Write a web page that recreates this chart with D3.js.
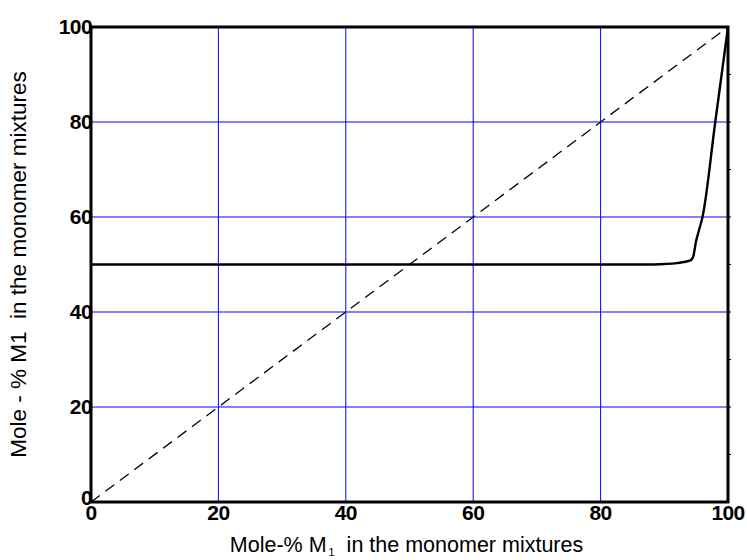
<!DOCTYPE html>
<html lang="en">
<head>
    <meta charset="UTF-8">
    <title>Copolymer composition</title>
    <script src="https://d3js.org/d3.v7.min.js"></script>
    <style>
        body { margin: 0; background: #fff; }
        svg { font-family: Arial, "Liberation Sans", sans-serif; }
        .tick-label { font-size: 21px; font-weight: bold; letter-spacing: -0.6px; }
        .axis-title { font-size: 21.5px; }
    </style>
</head>
<body>
    <div id="chart"></div>

    <script>
        // composition curve
        var feedX = [0, 88, 90, 92, 94, 94.5, 95, 95.4, 96, 98, 100];
        var copolyY = [50, 50, 50.1, 50.3, 50.8, 51.5, 55, 57, 60, 80, 100];
        // ideal (azeotropic) diagonal
        var diagX = [0, 100];
        var diagY = [0, 100];
        var tickValues = [0, 20, 40, 60, 80, 100];
        var gridValues = [20, 40, 60, 80];
        var minorValues = [10, 20, 30, 40, 50, 60, 70, 80, 90];

        var width = 747, height = 560;
        var margin = { left: 91, right: 19, top: 27, bottom: 58 };

        var svg = d3.select("#chart")
                    .append("svg")
                    .attr("width", width)
                    .attr("height", height);

        var x = d3.scaleLinear().domain([0, 100]).range([margin.left, width - margin.right]);
        var y = d3.scaleLinear().domain([0, 100]).range([height - margin.bottom, margin.top]);

        // blue grid
        svg.append("g").selectAll("line.gx")
           .data(gridValues).enter().append("line")
           .attr("x1", function(d) { return x(d); })
           .attr("x2", function(d) { return x(d); })
           .attr("y1", y(0)).attr("y2", y(100))
           .attr("stroke", "#0000ff").attr("stroke-width", 1);

        svg.append("g").selectAll("line.gy")
           .data(gridValues).enter().append("line")
           .attr("y1", function(d) { return y(d); })
           .attr("y2", function(d) { return y(d); })
           .attr("x1", x(0)).attr("x2", x(100))
           .attr("stroke", "#0000ff").attr("stroke-width", 1);

        // small ticks on the right border
        svg.append("g").selectAll("line.rt")
           .data(minorValues).enter().append("line")
           .attr("y1", function(d) { return y(d); })
           .attr("y2", function(d) { return y(d); })
           .attr("x1", x(100)).attr("x2", x(100) + 3)
           .attr("stroke", "#000").attr("stroke-width", 1);

        var line = d3.line()
                     .x(function(d) { return x(d[0]); })
                     .y(function(d) { return y(d[1]); });

        // dashed diagonal
        svg.append("path")
           .datum(d3.zip(diagX, diagY))
           .attr("d", line)
           .attr("fill", "none")
           .attr("stroke", "#000")
           .attr("stroke-width", 1.3)
           .attr("stroke-dasharray", "11,7");

        // composition curve
        svg.append("path")
           .datum(d3.zip(feedX, copolyY))
           .attr("d", line.curve(d3.curveMonotoneX))
           .attr("fill", "none")
           .attr("stroke", "#000")
           .attr("stroke-width", 2.4);

        // frame
        svg.append("rect")
           .attr("x", x(0)).attr("y", y(100))
           .attr("width", x(100) - x(0))
           .attr("height", y(0) - y(100))
           .attr("fill", "none")
           .attr("stroke", "#000")
           .attr("stroke-width", 3);

        // tick labels
        svg.append("g").selectAll("text")
           .data(tickValues).enter().append("text")
           .attr("class", "tick-label")
           .attr("x", function(d) { return x(d); })
           .attr("y", y(0) + 18)
           .attr("text-anchor", "middle")
           .text(function(d) { return d; });

        svg.append("g").selectAll("text")
           .data(tickValues).enter().append("text")
           .attr("class", "tick-label")
           .attr("x", x(0) + 1)
           .attr("y", function(d) { return y(d) + 7 - (d === 0 ? 4 : 0); })
           .attr("text-anchor", "end")
           .text(function(d) { return d; });

        // axis titles
        var xt = svg.append("text")
           .attr("class", "axis-title")
           .attr("x", (x(0) + x(100)) / 2 - 3)
           .attr("y", 552)
           .attr("text-anchor", "middle")
           .attr("xml:space", "preserve");
        xt.append("tspan").text("Mole-% M");
        xt.append("tspan").attr("dx", 2).attr("dy", 4).style("font-size", "11px").text("1");
        xt.append("tspan").attr("dy", -4).text("  in the monomer mixtures");

        svg.append("text")
           .attr("class", "axis-title")
           .style("font-size", "22.5px")
           .attr("transform", "translate(26," + ((y(0) + y(100)) / 2) + ") rotate(-90)")
           .attr("text-anchor", "middle")
           .attr("xml:space", "preserve")
           .text("Mole - % M1  in the monomer mixtures");
    </script>
</body>
</html>
